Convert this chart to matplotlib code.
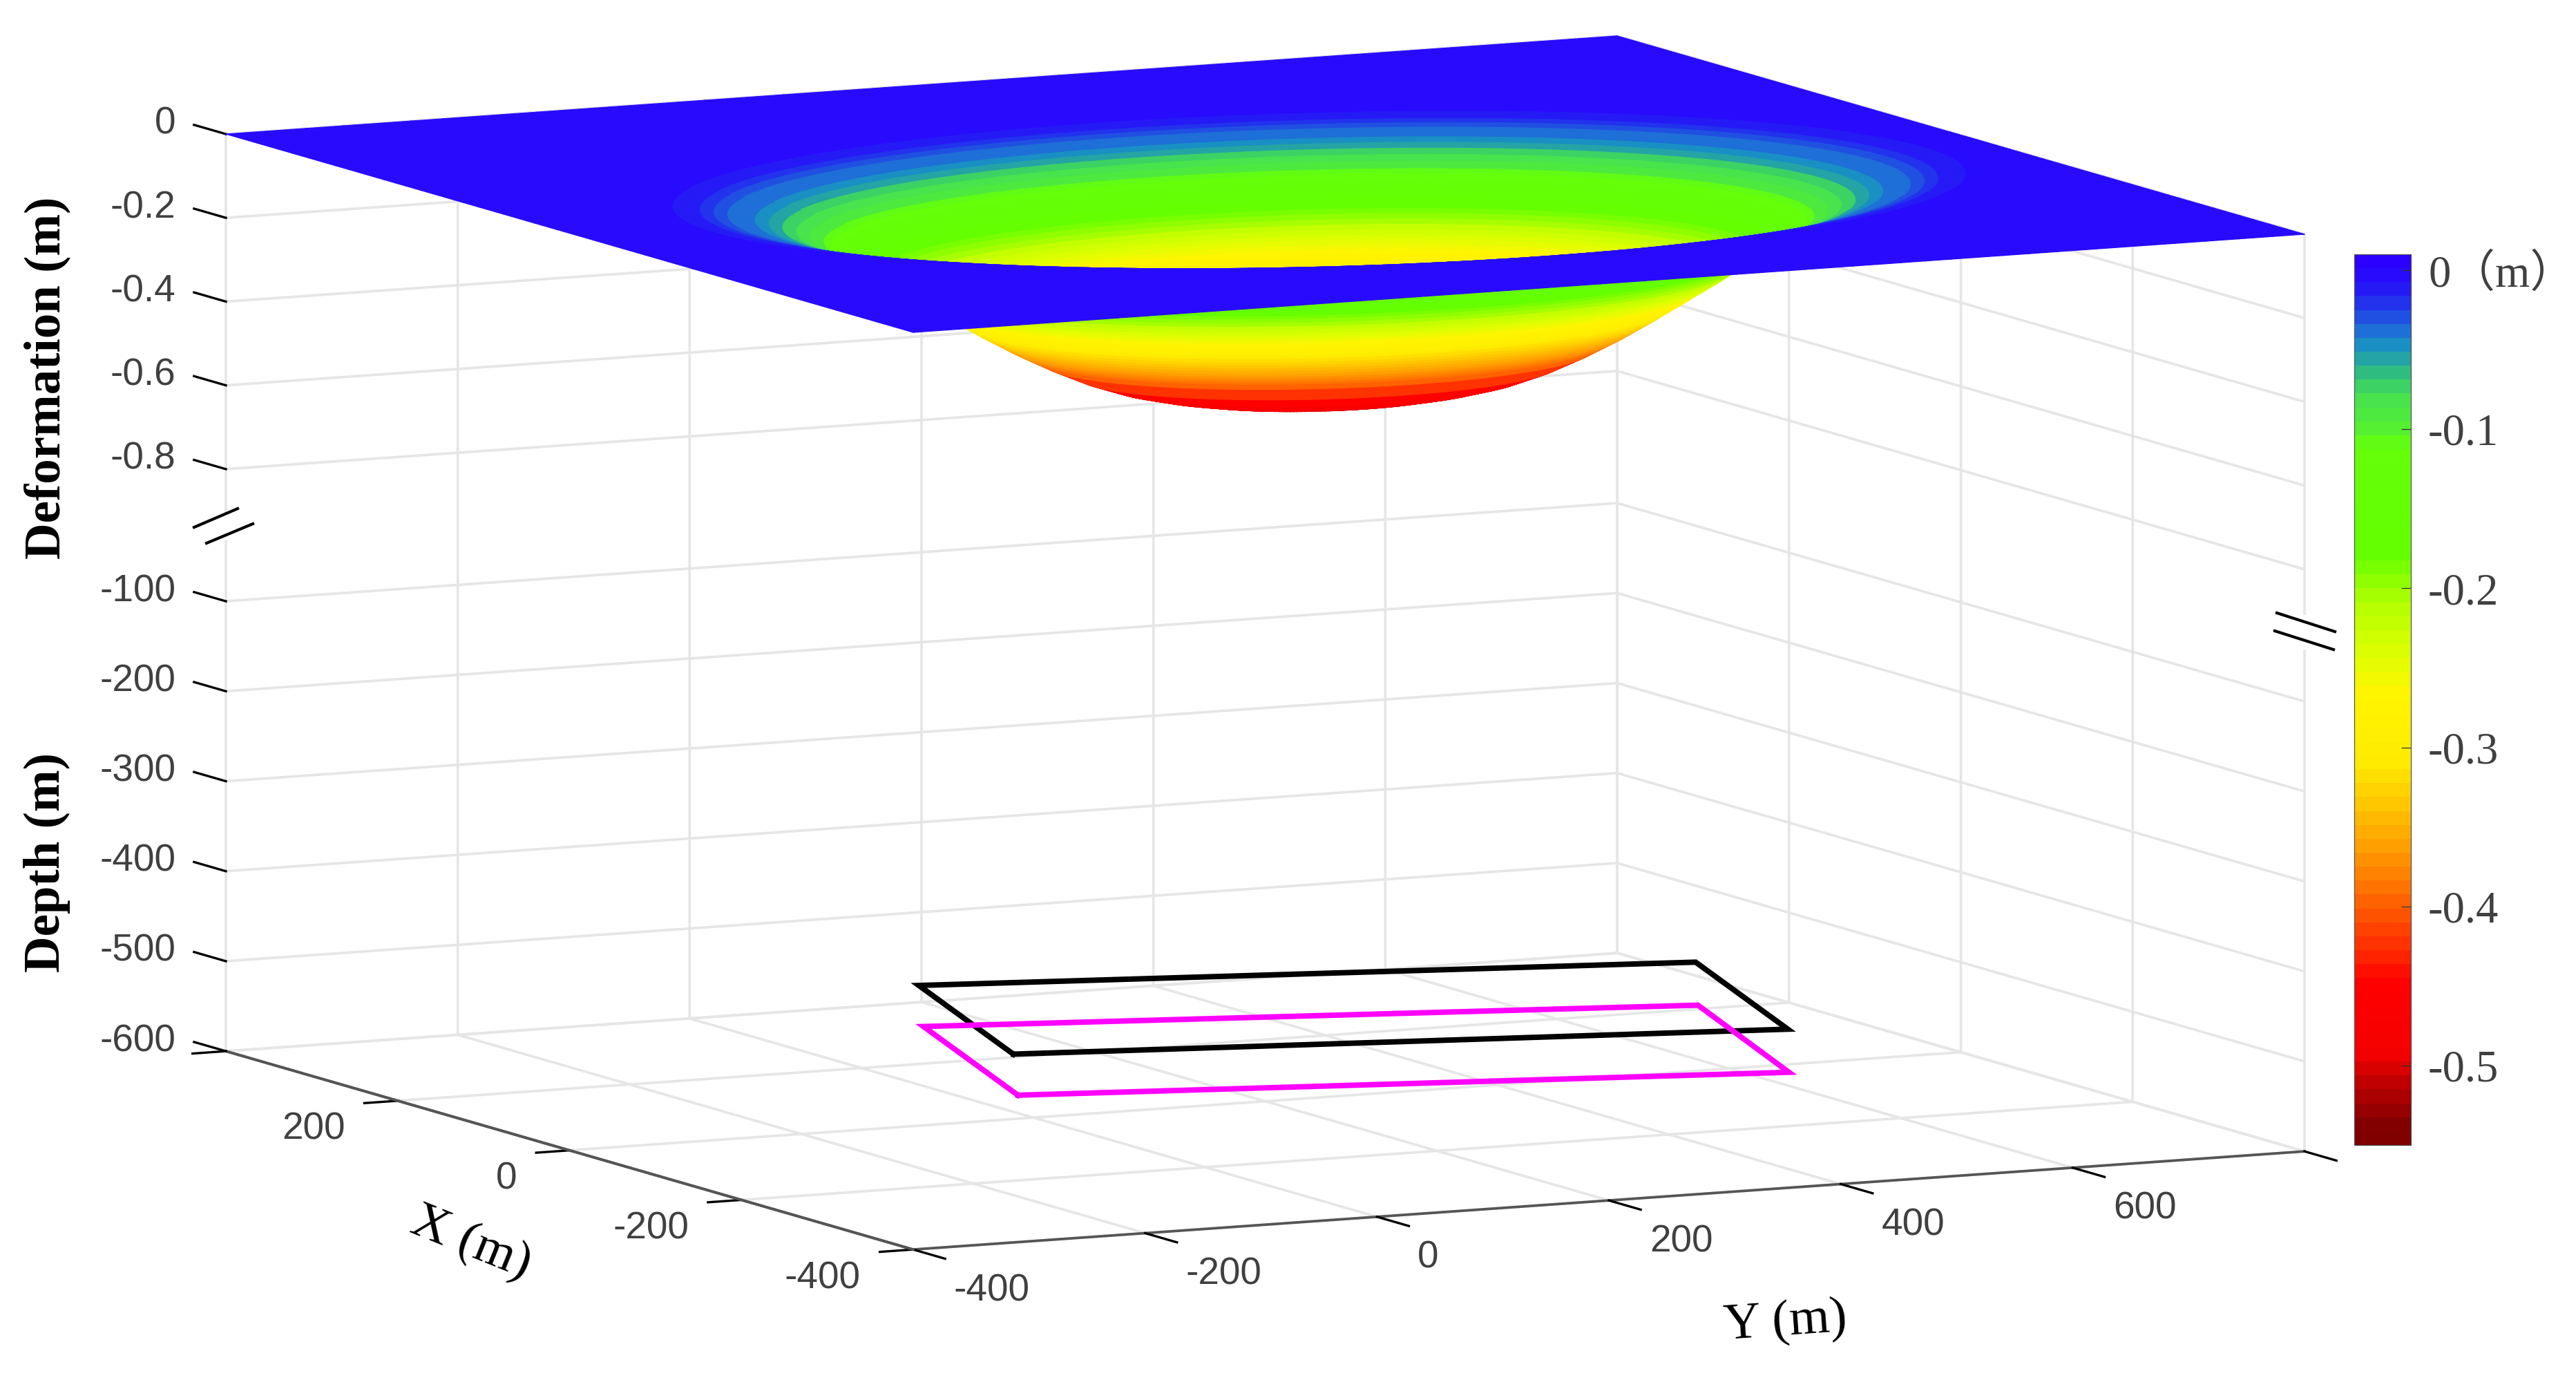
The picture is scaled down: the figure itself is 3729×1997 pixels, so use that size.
"""Subsidence basin above two panels, 3-D box with a broken z axis."""
import numpy as np
import matplotlib
matplotlib.use('Agg')
import matplotlib.pyplot as plt
from matplotlib.cm import ScalarMappable
from matplotlib.colors import LinearSegmentedColormap, Normalize
from matplotlib.lines import Line2D
from matplotlib.patches import Rectangle
from matplotlib.transforms import Affine2D
from mpl_toolkits.mplot3d import proj3d

W_PX, H_PX = 3729, 1997

# ── Data ──────────────────────────────────────────────────────────────────────

# basin profile: deformation (m) at each normalised elliptical radius
basin_r = [0, 0.1, 0.2, 0.25, 0.3, 0.35, 0.4,
           0.41, 0.42, 0.43, 0.44, 0.45, 0.46, 0.47, 0.48, 0.49,
           0.5, 0.51, 0.52, 0.53, 0.54, 0.55, 0.56, 0.57, 0.58, 0.59,
           0.6, 0.61, 0.62, 0.63, 0.64, 0.65, 0.66, 0.67, 0.68, 0.69,
           0.7, 0.71, 0.72, 0.74, 0.76, 0.78, 0.8, 0.82, 0.84, 0.86, 0.88,
           0.9, 0.92, 0.94, 0.96, 0.98, 1.0, 1.02]
basin_w = [-0.52, -0.516, -0.498, -0.485, -0.467, -0.44, -0.405,
           -0.397, -0.389, -0.381, -0.373, -0.365, -0.356, -0.347, -0.338, -0.329,
           -0.32, -0.31, -0.301, -0.291, -0.282, -0.272, -0.262, -0.253, -0.243, -0.234,
           -0.224, -0.213, -0.202, -0.191, -0.181, -0.171, -0.161, -0.151, -0.141, -0.132,
           -0.122, -0.112, -0.102, -0.088, -0.076, -0.065, -0.055, -0.046, -0.038, -0.031, -0.024,
           -0.018, -0.013, -0.009, -0.006, -0.003, -0.001, 0]
basin_x0, basin_y0 = -19, 232      # centre (m)
basin_a, basin_b = 284, 555        # half widths along X and Y (m)

panel1_x = [-55, 55, 55, -55, -55]
panel1_y = [-58, -58, 612, 610, -58]
panel1_depth = [-509, -463, -498, -542, -509]
panel2_x = [-55, 55, 55, -55, -55]
panel2_y = [-54, -54, 614, 611, -54]
panel2_depth = [-555, -509, -546, -590, -555]

xlim = (400, -400)
ylim = (-400, 800)
xticks = [400, 200, 0, -200, -400]
xtick_labels = ['', '200', '0', '-200', '-400']
yticks = [-400, -200, 0, 200, 400, 600, 800]
ytick_labels = ['-400', '-200', '0', '200', '400', '600', '']
deform_ticks = [0, -0.2, -0.4, -0.6, -0.8]
deform_labels = ['0', '-0.2', '-0.4', '-0.6', '-0.8']
depth_ticks = [-100, -200, -300, -400, -500, -600]
depth_labels = ['-100', '-200', '-300', '-400', '-500', '-600']

cbar_ticks = [0, -0.1, -0.2, -0.3, -0.4, -0.5]
cbar_labels = ['0（m）', '-0.1', '-0.2', '-0.3', '-0.4', '-0.5']

# colormap as it appears in the colour bar, bottom to top
cmap_pos = [0, 0.014, 0.062, 0.097, 0.18, 0.201, 0.242, 0.291, 0.339, 0.395,
            0.429, 0.506, 0.547, 0.609, 0.637, 0.665, 0.789, 0.81, 0.845,
            0.869, 0.884, 0.904, 0.921, 0.949, 0.976, 1]
cmap_rgb = [(128, 0, 0), (128, 0, 0), (190, 0, 0), (245, 0, 0), (255, 0, 0),
            (255, 30, 0), (255, 70, 0), (255, 120, 0), (255, 165, 0),
            (255, 210, 0), (255, 235, 0), (255, 245, 0), (225, 255, 0),
            (180, 255, 0), (140, 255, 0), (100, 255, 0), (100, 255, 10),
            (85, 240, 50), (70, 225, 80), (50, 195, 120), (40, 170, 155),
            (25, 145, 195), (30, 110, 215), (33, 55, 235), (38, 15, 250),
            (43, 0, 255)]


# ── Broken z axis ─────────────────────────────────────────────────────────────

DEFORM_SCALE = 606.0      # axis units per metre of deformation
DEPTH_SCALE = 1.302       # axis units per metre of depth
DEPTH_OFFSET = -545.8


def z_deform(v):
    return np.asarray(v, dtype=float) * DEFORM_SCALE


def z_depth(v):
    return DEPTH_OFFSET + np.asarray(v, dtype=float) * DEPTH_SCALE


plt.rcParams['font.family'] = ['Liberation Sans', 'DejaVu Sans']
plt.rcParams['grid.color'] = '#e6e6e6'
plt.rcParams['grid.linewidth'] = 0.9
plt.rcParams['axes.edgecolor'] = '#555555'
plt.rcParams['axes.linewidth'] = 0.9

fig = plt.figure(figsize=(W_PX / 300, H_PX / 300), dpi=300)
# figure artists below are placed in picture pixels, origin top left
px = Affine2D().scale(1, -1).translate(0, H_PX)

ax = fig.add_axes([110 / W_PX, -653 / H_PX, 3351 / W_PX, 3351 / H_PX],
                  projection='3d', proj_type='ortho')
ax.view_init(elev=8.2, azim=-26.31)
ax.set_box_aspect((2245, 2247, 1341), zoom=1)
ax.set_xlim(*xlim, view_margin=0)
ax.set_ylim(*ylim, view_margin=0)
ax.set_zlim(z_depth(-600), 0, view_margin=0)
ax.patch.set_alpha(0)


def corner_px(x, y, z):
    sx, sy, _ = proj3d.proj_transform(x, y, z, ax.get_proj())
    return ax.transData.transform((sx, sy))


# line the box up with the picture: left corner (327, 194), right (3336, 339)
size = 3351 * (3336 - 327) / (corner_px(-400, 800, 0)[0] - corner_px(400, -400, 0)[0])
ax.set_position([110 / W_PX, -653 / H_PX, size / W_PX, size / H_PX])
left_now = corner_px(400, -400, 0)
ax.set_position([(110 + 327 - left_now[0]) / W_PX,
                 (-653 + H_PX - 194 - left_now[1]) / H_PX,
                 size / W_PX, size / H_PX])

cmap = LinearSegmentedColormap.from_list(
    'basin', [(p, tuple(c / 255 for c in rgb))
              for p, rgb in zip(cmap_pos, cmap_rgb)], N=64)
norm = Normalize(-0.55, 0.01)

# ── Surface and panels ────────────────────────────────────────────────────────

# mesh: ellipses through the profile radii, then flat plate out to the box edge
corner_t = [np.arctan2((cy - basin_y0) / basin_b, (cx - basin_x0) / basin_a)
            for cx in xlim for cy in ylim]
theta = np.unique(np.r_[np.linspace(-np.pi, np.pi, 241), corner_t])
cos_t, sin_t = np.cos(theta), np.sin(theta)
with np.errstate(divide='ignore'):
    reach_x = np.where(cos_t > 0, 400 - basin_x0, 400 + basin_x0) / (basin_a * np.abs(cos_t))
    reach_y = np.where(sin_t > 0, 800 - basin_y0, 400 + basin_y0) / (basin_b * np.abs(sin_t))
reach = np.minimum(reach_x, reach_y)

rows_r = [np.full_like(theta, r) for r in basin_r]
rows_w = [np.full_like(theta, w) for w in basin_w]
for frac in (0.25, 0.5, 0.75, 1.0):
    rows_r.append(basin_r[-1] + (reach - basin_r[-1]) * frac)
    rows_w.append(np.zeros_like(theta))
R = np.array(rows_r)
W = np.array(rows_w)
X = basin_x0 + basin_a * R * cos_t
Y = basin_y0 + basin_b * R * sin_t

# one colour per ring, mean of its two edges
cell_colors = cmap(norm(0.5 * (W[:-1, :-1] + W[1:, :-1])))
ax.plot_surface(X, Y, z_deform(W), rstride=1, cstride=1,
                facecolors=cell_colors, linewidth=0.3, antialiased=True,
                shade=False)

ax.plot(panel1_x, panel1_y, z_depth(panel1_depth), color='black', lw=1.9,
        solid_joinstyle='miter')
ax.plot(panel2_x, panel2_y, z_depth(panel2_depth), color='#ff00ff', lw=1.9,
        solid_joinstyle='miter')

# ── Axes ──────────────────────────────────────────────────────────────────────

for axis in (ax.xaxis, ax.yaxis, ax.zaxis):
    axis.set_pane_color((1, 1, 1, 1))
    axis._axinfo['tick']['inward_factor'] = 0
    axis._axinfo['tick']['linewidth'] = {True: 0.8, False: 0.4}
    axis._axinfo['tick']['color'] = '#555555'
ax.xaxis._axinfo['tick']['outward_factor'] = -0.3
ax.yaxis._axinfo['tick']['outward_factor'] = -0.58
ax.zaxis._axinfo['tick']['outward_factor'] = 0.58

z_positions = list(z_deform(deform_ticks)) + list(z_depth(depth_ticks))
ax.set_xticks(xticks)
ax.set_yticks(yticks)
ax.set_zticks(z_positions)
ax.set_xticklabels([])
ax.set_yticklabels([])
ax.set_zticklabels([])
ax.zaxis._axinfo['juggled'] = (1, 0, 2)
# X = 400 and Y = 800 only carry grid lines, no tick mark
ax.xaxis.get_major_ticks()[0].tick1line.set_visible(False)
ax.yaxis.get_major_ticks()[-1].tick1line.set_visible(False)


def label_at(x, y, z, text, dx, dy, ha):
    """Tick label at a 3-D position, offset in picture pixels."""
    sx, sy, _ = proj3d.proj_transform(x, y, z, ax.get_proj())
    ax.annotate(text, (sx, sy), xytext=(dx, dy), textcoords='offset pixels',
                ha=ha, va='center', fontsize=13.2, color='#404040')


for v, text in zip(xticks, xtick_labels):
    label_at(v, -400, z_depth(-600), text, -76, -42, 'right')
for v, text in zip(yticks, ytick_labels):
    label_at(-400, v, z_depth(-600), text, 59, -60, 'left')
for z, text in zip(z_positions, deform_labels + depth_labels):
    label_at(400, -400, z, text, -73, 14, 'right')

# ── Axis titles ───────────────────────────────────────────────────────────────

serif = ['Liberation Serif', 'DejaVu Serif']
fig.text(68, 547, 'Deformation (m)', transform=px, rotation=90, ha='center',
         va='center', fontsize=17.5, fontweight='bold', family=serif)
fig.text(68, 1248, 'Depth (m)', transform=px, rotation=90, ha='center',
         va='center', fontsize=17.5, fontweight='bold', family=serif)
fig.text(682, 1800, 'X (m)', transform=px, rotation=-22, ha='center',
         va='center', fontsize=18, family=serif)
fig.text(2585, 1914, 'Y (m)', transform=px, rotation=4, ha='center',
         va='center', fontsize=18, family=serif)

# ── Axis break marks ──────────────────────────────────────────────────────────

fig.add_artist(Rectangle((318, 745), 26, 36, transform=px, color='white', lw=0))
fig.add_artist(Rectangle((3322, 890), 30, 50, transform=px, color='white', lw=0))
for xs, ys in (([281, 344], [763, 736]), ([299, 366], [786, 758]),
               ([3296, 3380], [887, 914]), ([3293, 3378], [913, 940])):
    fig.add_artist(Line2D(xs, ys, transform=px, color='black', lw=1.0))

# ── Colour bar ────────────────────────────────────────────────────────────────

cax = fig.add_axes([3408 / W_PX, (H_PX - 1657) / H_PX,
                    82 / W_PX, 1289 / H_PX])
cbar = fig.colorbar(ScalarMappable(norm=norm, cmap=cmap), cax=cax)
cbar.set_ticks(cbar_ticks)
cbar.set_ticklabels(cbar_labels)
cbar.outline.set_linewidth(0.3)
cax.tick_params(direction='in', length=3.4, width=0.3, color='#333333',
                labelsize=15.5, labelcolor='#404040', pad=6)
for lab in cax.get_yticklabels():
    lab.set_family(['Liberation Serif', 'Noto Sans CJK SC'])

fig.savefig('out.png', dpi=300)
